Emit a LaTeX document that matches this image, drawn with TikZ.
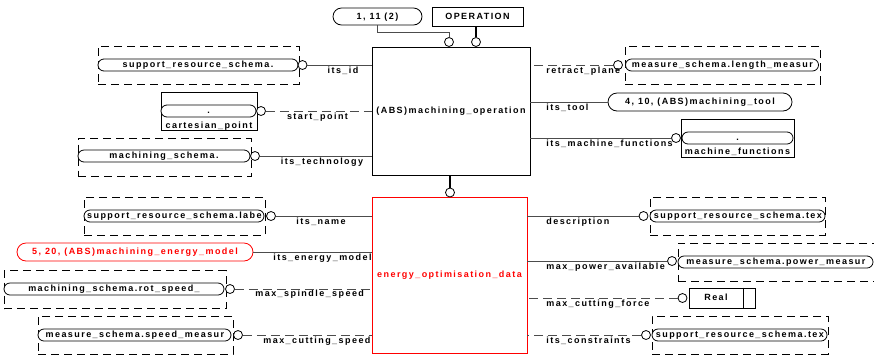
\documentclass[tikz,border=0pt]{standalone}
\usepackage{fontspec}
\setmainfont{Liberation Sans}[LetterSpace=16]
\tikzset{
  every node/.style={font=\bfseries\fontsize{9}{10}\selectfont, text height=6.3pt, text depth=1pt},
  ent/.style={draw, inner sep=0pt},
  refbox/.style={draw, dash pattern=on 8pt off 5pt, minimum height=38pt, inner sep=0pt},
  pill/.style={draw, fill=white, rounded corners=6pt, minimum height=12pt, inner sep=0pt},
  bigpill/.style={draw, fill=white, rounded corners=9pt, minimum height=18pt, inner sep=0pt},
  cuttext/.style={path picture={\node[anchor=west, inner sep=1pt] at (path picture bounding box.west) {#1};}},
  ring/.style={draw, circle, fill=white, minimum size=9pt, inner sep=0pt},
  link/.style={draw=black!70},
  optlink/.style={link, dash pattern=on 9pt off 5pt},
  subline/.style={line width=1.8pt},
  lab/.style={anchor=base, inner sep=0pt},
  rlab/.style={anchor=base west, inner sep=0pt}
}
\begin{document}
\begin{tikzpicture}[x=1pt,y=-1pt,line width=0.8pt]
\clip (0,0) rectangle (874,357);
% machining operation and its supertype
\node[ent, minimum width=158pt, minimum height=128pt] (opbox) at (451,111) {(ABS)machining\_operation};
\node[bigpill, minimum width=89pt, minimum height=17pt, rounded corners=8.5pt] (n111) at (377.5,16.5) {1, 11 (2)};
\node[ent, minimum width=91pt, minimum height=19pt] (opn) at (477.5,16.5) {OPERATION};
\node[ring] (ocn) at (449,42) {};
\node[ring] (opc) at (476,42) {};
\draw[link] (n111.south) -- ++(0,7) -| (ocn.north);
\draw[subline] (opc.north) -- (opc.north |- opn.south);

% left of machining operation
\node[refbox, minimum width=201pt] (idf) at (198.5,65) {};
\node[pill, minimum width=200pt] (idp) at (198,65) {support\_resource\_schema.};
\node[ring] (idc) at (302.5,65) {};
\draw[link] (idc) -- (idc -| opbox.west);
\node[lab] (idl) at (343,73) {its\_id};

\node[ent, minimum width=96pt, minimum height=38pt] (cpb) at (209,111) {};
\node[pill, minimum width=95pt] (cpp) at (208.5,111) {.};
\node[lab] (cpl) at (209,128.5) {cartesian\_point};
\node[ring] (cpc) at (261,111) {};
\draw[optlink] (cpc) -- (cpc -| opbox.west);
\node[lab] (spl) at (317.5,119) {start\_point};

\node[refbox, minimum width=173pt] (tcf) at (164.5,157.5) {};
\node[pill, minimum width=172pt] (tcp) at (164,156) {machining\_schema.};
\node[ring] (tcc) at (255,156) {};
\draw[link] (tcc) -- (tcc -| opbox.west);
\node[lab] (tcl) at (322,164) {its\_technology};

% right of machining operation
\node[refbox, minimum width=195pt] (rtf) at (722.5,65) {};
\node[pill, minimum width=193pt, cuttext={measure\_schema.length\_measur}] (rtp) at (722,65) {};
\node[ring] (rtc) at (618,65) {};
\draw[optlink] (rtc) -- (rtc -| opbox.east);
\node[rlab] (rtl) at (546,73) {retract\_plane};

\node[bigpill, minimum width=184pt] (tlp) at (700,102) {4, 10, (ABS)machining\_tool};
\draw[link] (tlp) -- (tlp -| opbox.east);
\node[rlab] (tll) at (546,110) {its\_tool};

\node[ent, minimum width=113pt, minimum height=38pt] (mfb) at (737.5,138) {};
\node[pill, minimum width=111pt] (mfp) at (737.5,138) {.};
\node[lab] (mfn) at (737.5,154) {machine\_functions};
\node[ring] (mfc) at (676,138) {};
\draw[link] (mfc) -- (mfc -| opbox.east);
\node[rlab] (mfl) at (546,146) {its\_machine\_functions};

% left of energy optimisation data
\node[refbox, minimum width=181pt] (nmf) at (174.5,216) {};
\node[pill, minimum width=180pt, cuttext={support\_resource\_schema.labe}] (nmp) at (174,216) {};
\node[ring] (nmc) at (271,216) {};
\node[lab] (nml) at (321,224) {its\_name};

\node[bigpill, draw=red, text=red, minimum width=236pt] (emp) at (135,252) {5, 20, (ABS)machining\_energy\_model};
\node[rlab] (eml) at (273,260) {its\_energy\_model};

\node[refbox, minimum width=222pt] (ssf) at (115,289.5) {};
\node[pill, minimum width=220pt] (ssp) at (114,289) {machining\_schema.rot\_speed\_};
\node[ring] (ssc) at (230,289) {};
\node[rlab] (ssl) at (255,296) {max\_spindle\_speed};

\node[refbox, minimum width=195pt] (csf) at (135.5,335) {};
\node[pill, minimum width=193pt, cuttext={measure\_schema.speed\_measur}] (csp) at (134.5,335) {};
\node[ring] (csc) at (238,335) {};
\node[rlab] (csl) at (263,343) {max\_cutting\_speed};

% energy optimisation data
\node[ent, draw=red, fill=white, text=red, minimum width=155pt, minimum height=156pt] (ebox) at (449.5,275) {energy\_optimisation\_data};
\node[ring] (sbc) at (450,192.5) {};
\draw[subline] (sbc.north) -- (sbc.north |- opbox.south);
\draw[link] (nmc) -- (nmc -| ebox.west);
\draw[link] (emp) -- (emp -| ebox.west);
\draw[optlink] (ssc) -- (ssc -| ebox.west);
\draw[optlink] (csc) -- (csc -| ebox.west);

% right of energy optimisation data
\node[refbox, minimum width=175pt] (dsf) at (737.5,216) {};
\node[pill, minimum width=175pt, cuttext={support\_resource\_schema.tex}] (dsp) at (737.5,216) {};
\node[ring] (dsc) at (643.5,216) {};
\draw[link] (dsc) -- (dsc -| ebox.east);
\node[rlab] (dsl) at (546,224) {description};

\node[refbox, minimum width=212pt] (pwf) at (784,262) {};
\node[pill, minimum width=195pt, cuttext={measure\_schema.power\_measur}] (pwp) at (775.5,262) {};
\node[ring] (pwc) at (672,261) {};
\draw[link] (pwc) -- (pwc -| ebox.east);
\node[rlab] (pwl) at (546,269) {max\_power\_available};

\node[ent, minimum width=66pt, minimum height=20pt] (rlb) at (722,298) {};
\draw ([xshift=-12pt]rlb.north east) -- ([xshift=-12pt]rlb.south east);
\node (rlt) at ([xshift=-6pt]rlb.center) {Real};
\node[ring] (cfc) at (682.5,298) {};
\draw[optlink] (cfc) -- (cfc -| ebox.east);
\node[rlab] (cfl) at (546,306) {max\_cutting\_force};

\node[refbox, minimum width=176pt] (ctf) at (740,335) {};
\node[pill, minimum width=175pt, cuttext={support\_resource\_schema.tex}] (ctp) at (739.5,335) {};
\node[ring] (ctc) at (646,335) {};
\draw[optlink] (ctc) -- (ctc -| ebox.east);
\node[rlab] (ctl) at (546,343) {its\_constraints};
\end{tikzpicture}
\end{document}
